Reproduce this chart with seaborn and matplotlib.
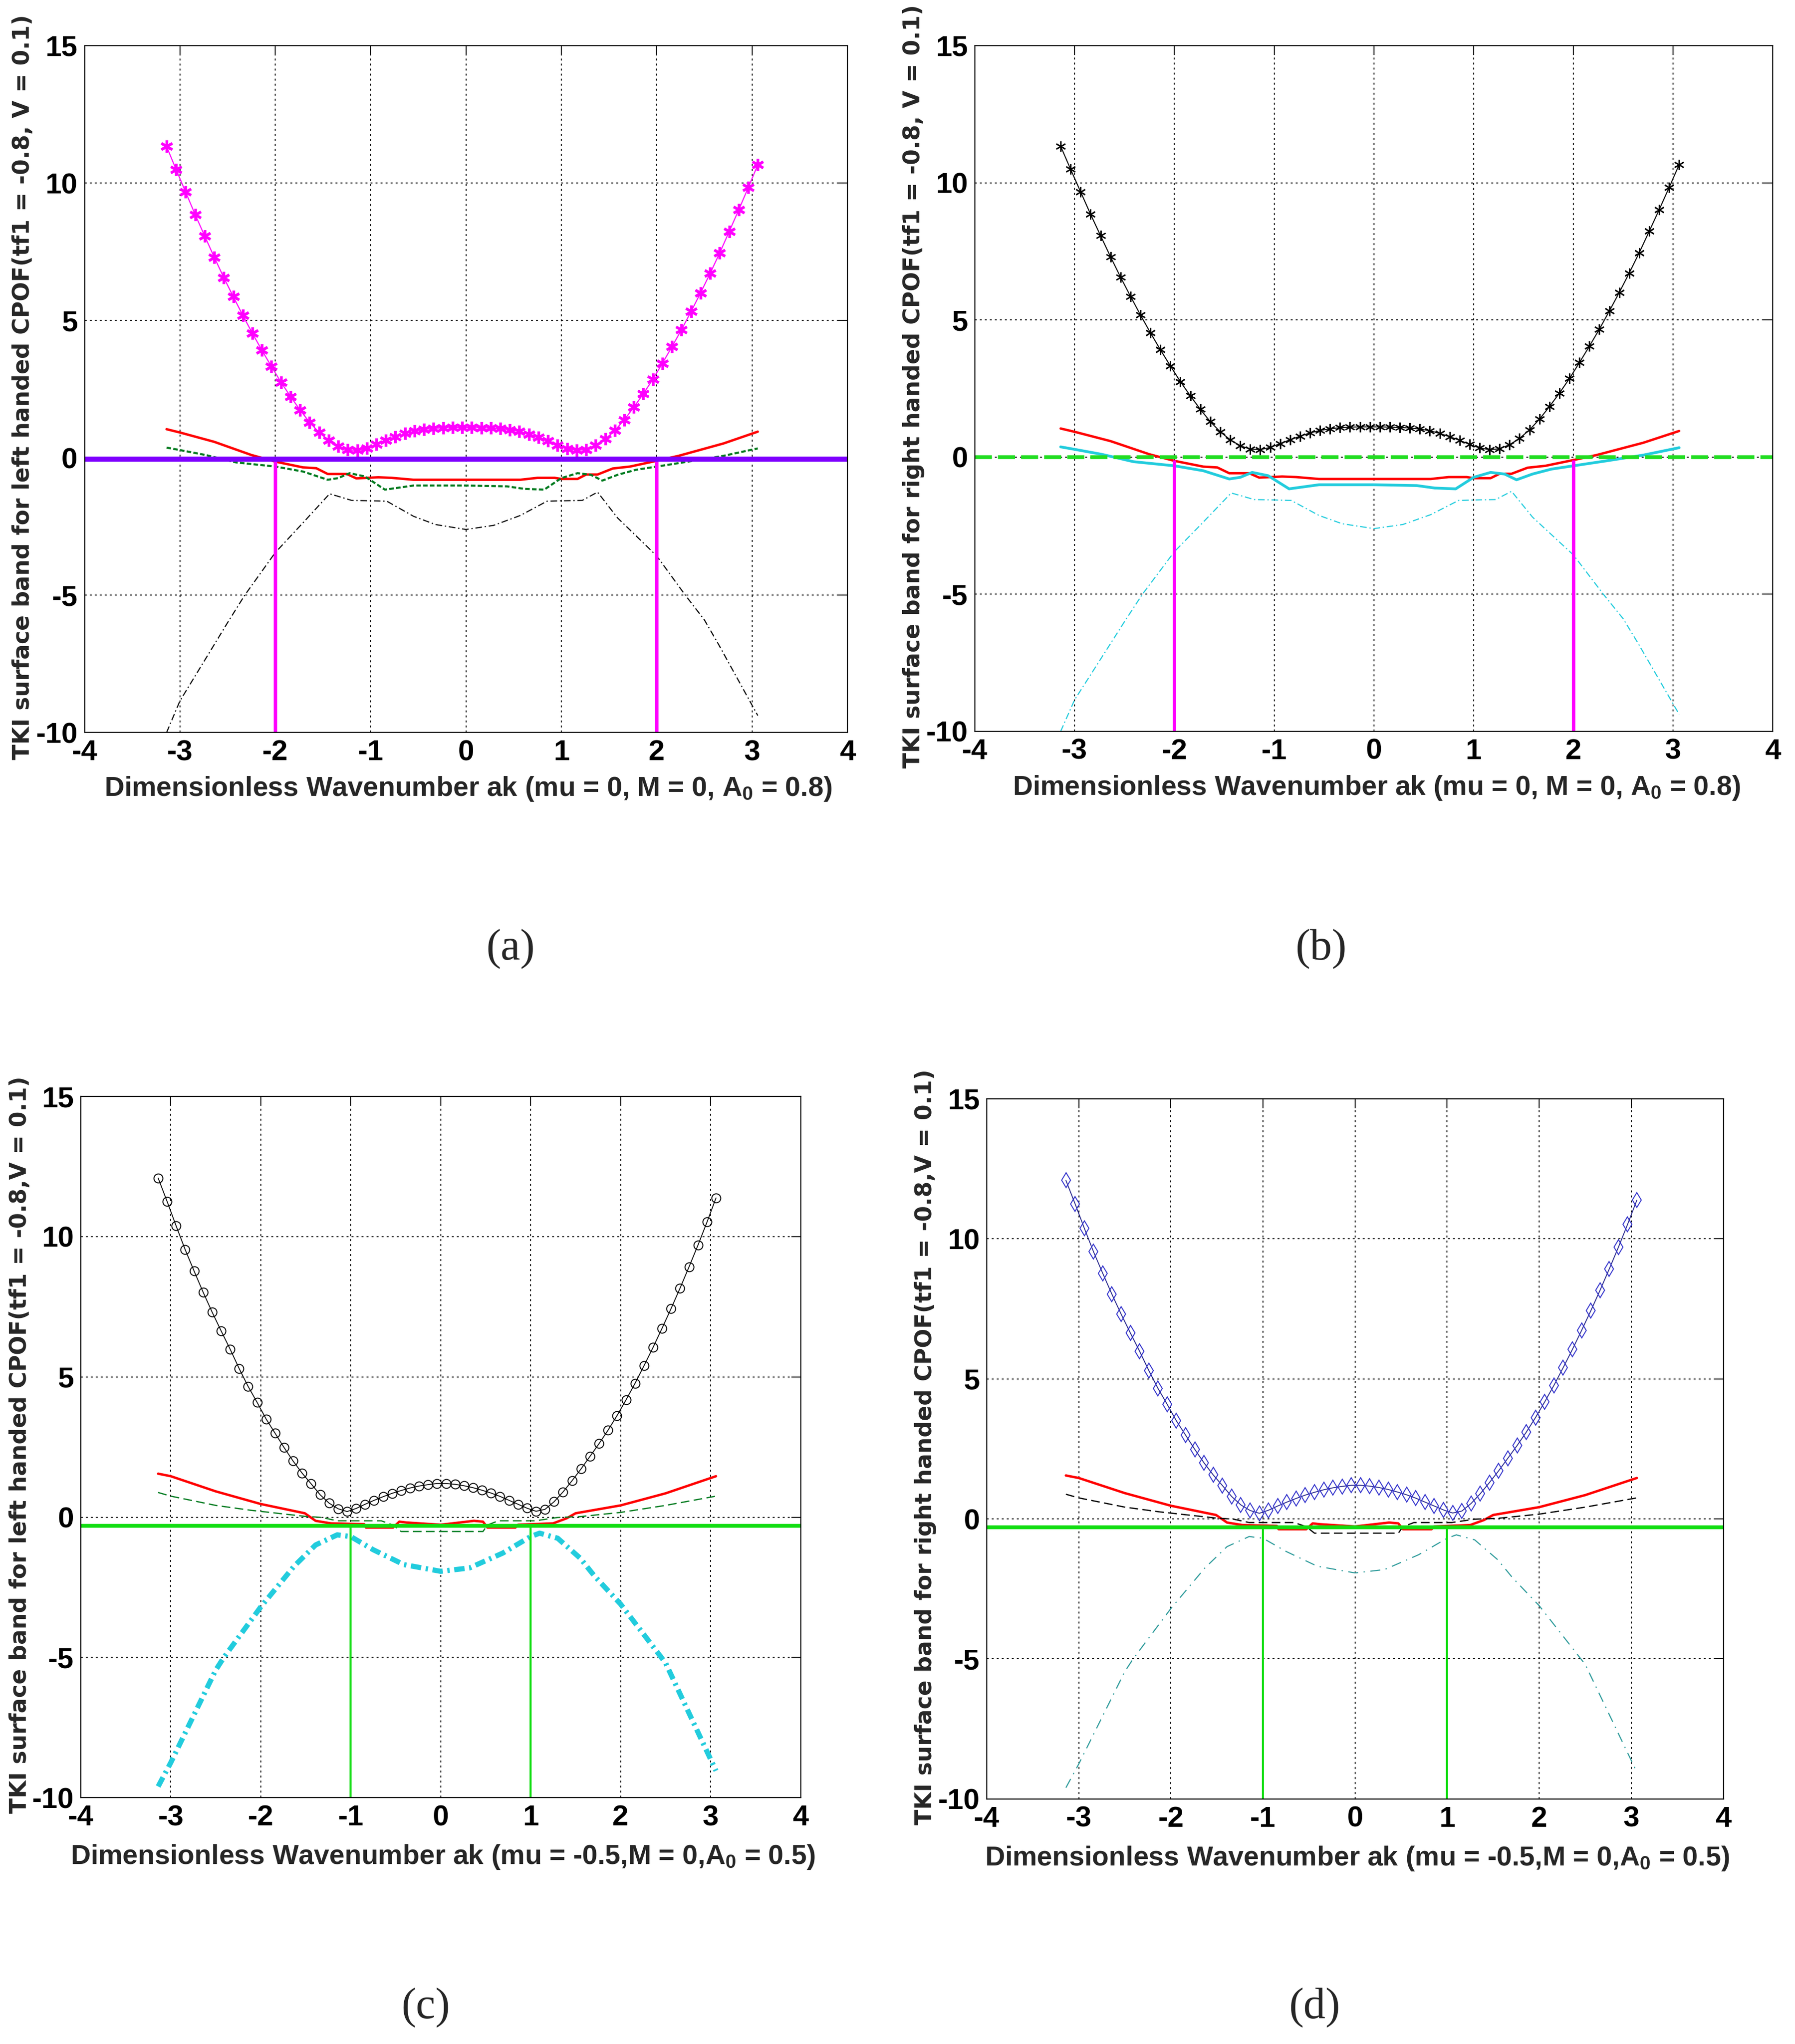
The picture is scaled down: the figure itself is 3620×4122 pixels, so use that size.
import numpy as np
import pandas as pd
import matplotlib
matplotlib.use("Agg")
import matplotlib.pyplot as plt
import seaborn as sns
from matplotlib import font_manager as fm

# ---------------- data ----------------
ak = [-3.14, -3.04, -2.94, -2.84, -2.74, -2.64, -2.54, -2.44, -2.34, -2.24,
      -2.14, -2.04, -1.94, -1.84, -1.74, -1.64, -1.54, -1.44, -1.34, -1.24,
      -1.14, -1.04, -0.94, -0.84, -0.74, -0.64, -0.54, -0.44, -0.34, -0.24,
      -0.14, -0.04, 0.06, 0.16, 0.26, 0.36, 0.46, 0.56, 0.66, 0.76,
      0.86, 0.96, 1.06, 1.16, 1.26, 1.36, 1.46, 1.56, 1.66, 1.76,
      1.86, 1.96, 2.06, 2.16, 2.26, 2.36, 2.46, 2.56, 2.66, 2.76,
      2.86, 2.96, 3.06]

# upper (marker) band, panels (a)/(b)
band_ab = [11.33, 10.49, 9.67, 8.85, 8.07, 7.30, 6.56, 5.86, 5.18, 4.53,
           3.91, 3.32, 2.75, 2.23, 1.74, 1.29, 0.92, 0.63, 0.41, 0.29,
           0.27, 0.35, 0.49, 0.63, 0.76, 0.88, 0.97, 1.03, 1.07, 1.09,
           1.10, 1.10, 1.10, 1.09, 1.08, 1.06, 1.02, 0.96, 0.86, 0.74,
           0.61, 0.46, 0.33, 0.27, 0.30, 0.45, 0.68, 0.99, 1.38, 1.84,
           2.33, 2.86, 3.44, 4.04, 4.66, 5.32, 6.00, 6.71, 7.45, 8.23,
           9.02, 9.83, 10.66]

# upper (marker) band, panels (c)/(d)
band_cd = [12.09, 11.25, 10.38, 9.54, 8.77, 8.02, 7.31, 6.64, 5.99, 5.30,
           4.66, 4.09, 3.50, 2.99, 2.48, 2.00, 1.57, 1.19, 0.80, 0.50,
           0.30, 0.20, 0.31, 0.46, 0.60, 0.73, 0.85, 0.95, 1.04, 1.11,
           1.16, 1.20, 1.20, 1.17, 1.12, 1.05, 0.96, 0.86, 0.74, 0.60,
           0.46, 0.32, 0.21, 0.28, 0.55, 0.90, 1.30, 1.72, 2.17, 2.62,
           3.10, 3.62, 4.18, 4.77, 5.40, 6.05, 6.73, 7.43, 8.16, 8.92,
           9.70, 10.52, 11.38]

red_ab_x = [-3.14, -3.0, -2.64, -2.25, -2.0, -1.71, -1.57, -1.45, -1.25, -1.15,
            -0.92, -0.78, -0.55, 0.0, 0.57, 0.75, 0.93, 1.0, 1.17, 1.26,
            1.38, 1.54, 1.72, 2.0, 2.23, 2.7, 3.06]
red_ab_y = [1.04, 0.92, 0.58, 0.10, -0.14, -0.35, -0.38, -0.59, -0.59, -0.75,
            -0.71, -0.73, -0.80, -0.80, -0.80, -0.73, -0.73, -0.77, -0.77, -0.61,
            -0.61, -0.39, -0.32, -0.11, 0.07, 0.52, 0.95]

mid_ab_x = [-3.14, -3.0, -2.73, -2.41, -2.0, -1.71, -1.45, -1.34, -1.22, -1.06,
            -0.85, -0.73, -0.55, 0.0, 0.43, 0.61, 0.82, 1.0, 1.17, 1.31,
            1.43, 1.59, 1.78, 2.0, 2.33, 2.7, 3.06]
mid_ab_y = [0.37, 0.28, 0.10, -0.17, -0.32, -0.50, -0.80, -0.74, -0.56, -0.68,
            -1.16, -1.10, -1.01, -1.01, -1.04, -1.13, -1.16, -0.74, -0.56, -0.62,
            -0.83, -0.62, -0.44, -0.32, -0.14, 0.07, 0.34]

low_ab_x = [-3.14, -3.0, -2.64, -2.5, -2.32, -2.0, -1.71, -1.43, -1.2, -0.83,
            -0.55, -0.32, 0.0, 0.29, 0.57, 0.85, 1.22, 1.38, 1.59, 2.0,
            2.3, 2.5, 2.65, 3.06]
low_ab_y = [-10.0, -8.85, -6.8, -6.0, -5.0, -3.45, -2.37, -1.31, -1.55, -1.58,
            -2.13, -2.43, -2.61, -2.46, -2.1, -1.58, -1.55, -1.25, -2.19, -3.57,
            -5.0, -5.9, -6.8, -9.38]

red_cd_x = [-3.14, -3.0, -2.5, -2.0, -1.51, -1.39, -1.22, -0.85, -0.83, -0.53,
            -0.46, -0.38, 0.0, 0.37, 0.47, 0.52, 0.83, 0.86, 1.25, 1.40,
            1.50, 2.0, 2.5, 3.06]
red_cd_y = [1.55, 1.46, 0.92, 0.47, 0.14, -0.13, -0.22, -0.25, -0.37, -0.37,
            -0.16, -0.19, -0.27, -0.13, -0.16, -0.37, -0.37, -0.27, -0.22, -0.04,
            0.14, 0.42, 0.85, 1.46]

mid_cd_x = [-3.14, -3.0, -2.5, -2.12, -1.51, -1.32, -1.15, -0.66, -0.53, -0.44,
            0.47, 0.52, 0.64, 1.05, 1.3, 1.55, 2.0, 2.5, 3.06]
mid_cd_y = [0.88, 0.75, 0.42, 0.25, 0.03, -0.01, -0.13, -0.13, -0.28, -0.51,
            -0.51, -0.28, -0.13, -0.13, -0.01, 0.02, 0.17, 0.42, 0.75]

low_cd_x = [-3.14, -3.0, -2.5, -2.41, -2.0, -1.63, -1.39, -1.15, -1.0, -0.75,
            -0.41, 0.0, 0.32, 0.69, 1.0, 1.1, 1.3, 1.55, 1.71, 2.0,
            2.5, 3.06]
low_cd_y = [-9.6, -8.75, -5.45, -5.0, -3.2, -1.75, -0.99, -0.63, -0.69, -1.16,
            -1.69, -1.93, -1.81, -1.28, -0.69, -0.57, -0.75, -1.46, -2.1, -3.1,
            -5.2, -9.04]

level_a = -0.05      # violet horizontal line (a)
level_b = 0.0        # green dashed horizontal line (b)
vtop_b = -0.12       # top of magenta verticals (b)
level_cd = -0.3      # green horizontal line (c),(d)
cross_ab = [-2, 2]
cross_cd = [-1, 1]

xticks = [-4, -3, -2, -1, 0, 1, 2, 3, 4]
yticks = [-10, -5, 0, 5, 10, 15]

ylab_left = "TKI surface band for left handed CPOF(tf1 = -0.8, V = 0.1)"
ylab_right = "TKI surface band for right handed CPOF(tf1 = -0.8, V = 0.1)"
ylab_left_c = "TKI surface band for left handed CPOF(tf1 = -0.8,V = 0.1)"
ylab_right_d = "TKI surface band for right handed CPOF(tf1 = -0.8,V = 0.1)"
xlab_ab = r"Dimensionless Wavenumber ak (mu = 0, M = 0, A$_0$ = 0.8)"
xlab_cd = r"Dimensionless Wavenumber ak (mu = -0.5,M = 0,A$_0$ = 0.5)"

# ---------------- style ----------------
sns.set_style("white")
plt.rcParams["font.family"] = ["Liberation Sans", "DejaVu Sans"]
plt.rcParams["axes.unicode_minus"] = False
plt.rcParams["mathtext.fontset"] = "custom"

def have(name):
    try:
        fm.findfont(fm.FontProperties(family=name), fallback_to_default=False)
        return True
    except Exception:
        return False

narrow = have("Liberation Sans Narrow")
xlab_family = ["Liberation Sans Narrow", "Liberation Sans", "DejaVu Sans"] if narrow else ["Liberation Sans", "DejaVu Sans"]
xlab_size = 48 if narrow else 40
plt.rcParams["mathtext.rm"] = xlab_family[0] + ":bold"
plt.rcParams["mathtext.it"] = xlab_family[0] + ":bold"
plt.rcParams["mathtext.bf"] = xlab_family[0] + ":bold"

fig = plt.figure(figsize=(36.2, 41.22), dpi=100)
fig.patch.set_facecolor("white")

pos = {
    "a": [0.0471, 0.6416, 0.4250, 0.3361],
    "b": [0.5431, 0.6422, 0.4446, 0.3355],
    "c": [0.0450, 0.1205, 0.4010, 0.3431],
    "d": [0.5497, 0.1199, 0.4104, 0.3425],
}


def base(ax, ylab, xlab, ylab_x, xlab_y):
    ax.set_xlim(-4, 4)
    ax.set_ylim(-10, 15)
    ax.set_xticks(xticks)
    ax.set_yticks(yticks)
    ax.set_axisbelow(True)
    ax.grid(True, color="black", linestyle=(0, (2.0, 3.2)), linewidth=1.4)
    for s in ax.spines.values():
        s.set_color("black")
        s.set_linewidth(1.6)
        s.set_visible(True)
    ax.tick_params(direction="in", length=14, width=1.4, top=True, right=True,
                   labelsize=42, pad=10, colors="black")
    for lab in ax.get_xticklabels() + ax.get_yticklabels():
        lab.set_fontweight("bold")
    ax.set_ylabel(ylab, fontsize=33, fontweight="bold",
                  family=["DejaVu Sans"])
    ax.yaxis.set_label_coords(ylab_x, 0.503)
    ax.set_xlabel(xlab, fontsize=xlab_size, fontweight="bold", family=xlab_family)
    ax.xaxis.set_label_coords(0.503, xlab_y)


def line(ax, x, y, **kw):
    df = pd.DataFrame({"x": x, "y": y})
    sns.lineplot(data=df, x="x", y="y", ax=ax, sort=False, estimator=None, **kw)


# ---------------- (a) ----------------
axa = fig.add_axes(pos["a"])
line(axa, ak, band_ab, color="#FF00FF", lw=1.6, marker=(6, 2, 0), markersize=18,
     markeredgewidth=3.8, markeredgecolor="#FF00FF")
line(axa, red_ab_x, red_ab_y, color="#FF0000", lw=3.5)
line(axa, mid_ab_x, mid_ab_y, color="#007A1E", lw=3.0, linestyle=(0, (2.2, 1.1)))
line(axa, low_ab_x, low_ab_y, color="black", lw=1.6, linestyle=(0, (6, 2.5, 1.2, 2.5)))
axa.vlines(cross_ab, -10, level_a, colors="#FF00FF", lw=5)
axa.axhline(level_a, color="#7F00FF", lw=7.5)
base(axa, ylab_left, xlab_ab, -0.066, -0.062)

# ---------------- (b) ----------------
axb = fig.add_axes(pos["b"])
line(axb, ak, band_ab, color="black", lw=1.5, marker=(6, 2, 0), markersize=15,
     markeredgewidth=1.8, markeredgecolor="black")
line(axb, red_ab_x, red_ab_y, color="#FF0000", lw=3.5)
line(axb, mid_ab_x, mid_ab_y, color="#22CCDD", lw=4.0)
line(axb, low_ab_x, low_ab_y, color="#22CCDD", lw=1.6, linestyle=(0, (6, 2.5, 1.2, 2.5)))
axb.vlines(cross_ab, -10, vtop_b, colors="#FF00FF", lw=5)
axb.axhline(level_b, color="#22DD22", lw=5.5, linestyle=(0, (4.5, 1.6)))
base(axb, ylab_right, xlab_ab, -0.063, -0.062)

# ---------------- (c) ----------------
axc = fig.add_axes(pos["c"])
line(axc, ak, band_cd, color="black", lw=1.3, marker="o", markersize=13,
     markerfacecolor="none", markeredgecolor="black", markeredgewidth=1.4)
line(axc, red_cd_x, red_cd_y, color="#FF0000", lw=3.5)
line(axc, mid_cd_x, mid_cd_y, color="#007A1E", lw=1.8, linestyle=(0, (7, 3.5)))
line(axc, low_cd_x, low_cd_y, color="#22CCDD", lw=7.5, linestyle=(0, (2.0, 0.9, 0.45, 0.9)))
axc.vlines(cross_cd, -10, level_cd, colors="#11DD11", lw=3)
axc.axhline(level_cd, color="#11DD11", lw=5.5)
base(axc, ylab_left_c, xlab_cd, -0.069, -0.065)

# ---------------- (d) ----------------
axd = fig.add_axes(pos["d"])
line(axd, ak, band_cd, color="#22228A", lw=1.3, marker="d", markersize=15,
     markerfacecolor="none", markeredgecolor="#3333CC", markeredgewidth=1.4)
line(axd, red_cd_x, red_cd_y, color="#FF0000", lw=3.5)
line(axd, mid_cd_x, mid_cd_y, color="black", lw=1.8, linestyle=(0, (7, 3.5)))
line(axd, low_cd_x, low_cd_y, color="#2E9B9B", lw=1.6, linestyle=(0, (9, 5, 1.2, 5)))
axd.vlines(cross_cd, -10, level_cd, colors="#11DD11", lw=3)
axd.axhline(level_cd, color="#11DD11", lw=5.5)
base(axd, ylab_right_d, xlab_cd, -0.068, -0.065)

for ax in (axa, axb, axc, axd):
    leg = ax.get_legend()
    if leg is not None:
        leg.remove()

# panel letters
for txt, x, y in [("(a)", 0.2843, 0.5357), ("(b)", 0.7360, 0.5357),
                  ("(c)", 0.2371, 0.0179), ("(d)", 0.7324, 0.0179)]:
    fig.text(x, y, txt, ha="center", va="center", fontsize=64,
             family=["Liberation Serif", "DejaVu Serif"])

fig.savefig("out.png", dpi=100, facecolor="white")
